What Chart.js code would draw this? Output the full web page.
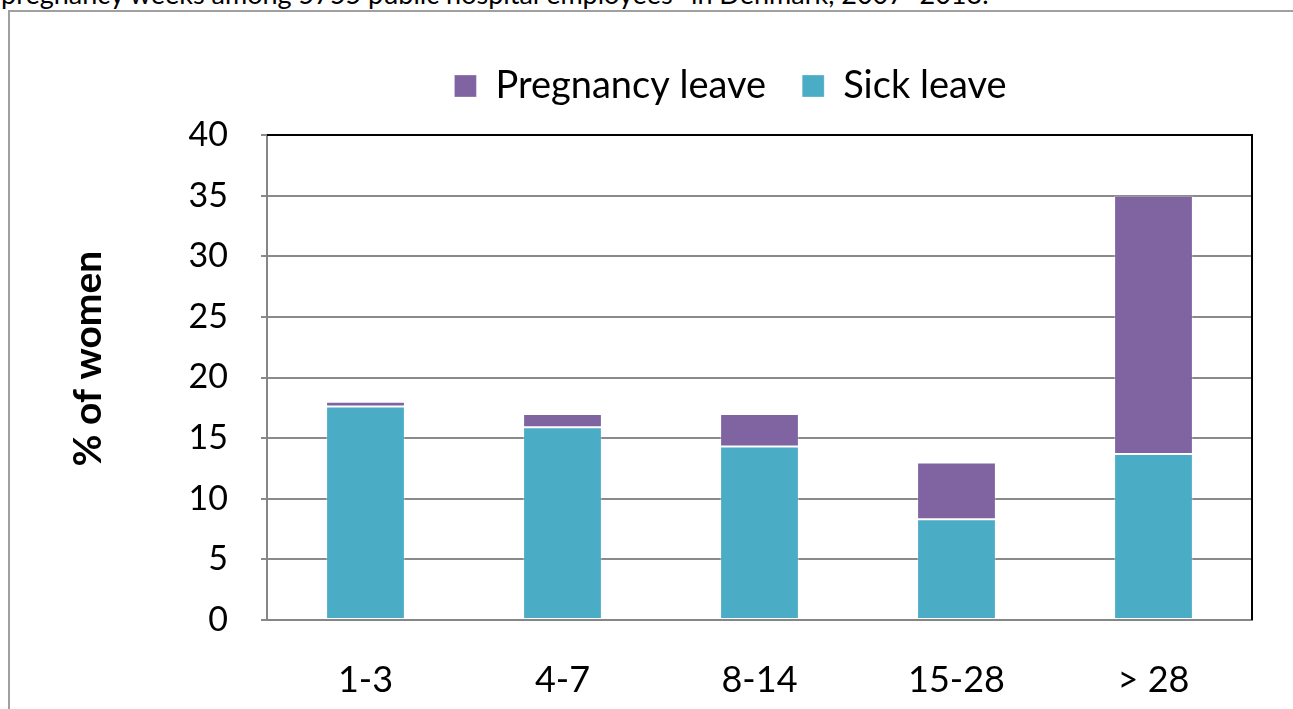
<!DOCTYPE html>
<html>
<head>
<meta charset="utf-8">
<script src="https://cdn.jsdelivr.net/npm/chart.js@4.4.1/dist/chart.umd.min.js"></script>
<style>
  html, body { margin: 0; padding: 0; background: #fff; overflow: hidden; }
  #page { position: relative; width: 1293px; height: 709px; overflow: hidden; }
  #caption { position: absolute; left: 1px; top: -23px; font: 27px Lato, sans-serif; color: #000; white-space: nowrap; }
  #frame { position: absolute; left: 8px; top: 10px; width: 1300px; height: 720px; border: 2px solid #a0a0a0; box-sizing: border-box; }
  #wrap { position: absolute; left: 0; top: 0; width: 1293px; height: 709px; }
</style>
</head>
<body>
<div id="page">
  <div id="caption">pregnancy weeks among 5755 public hospital employees* in Denmark, 2007–2013.</div>
  <div id="frame"></div>
  <div id="wrap"><canvas id="grafico"></canvas></div>
</div>
<script>
const categorias = ['1-3', '4-7', '8-14', '15-28', '> 28'];
const sickLeave = [17.6, 15.9, 14.3, 8.3, 13.7];
const pregnancyLeave = [0.4, 1.1, 2.7, 4.7, 21.3];
const yTicks = [0, 5, 10, 15, 20, 25, 30, 35, 40];

// legend sits right of centre and a bit higher in the original
const legendShift = {
    id: 'legendShift',
    afterLayout(chart) {
        chart.legend.left += 72;
        chart.legend.right += 72;
        chart.legend.top -= 20;
        chart.legend.bottom -= 20;
    }
};

// black top and right edge of the plot box
const plotBorder = {
    id: 'plotBorder',
    afterDraw(chart) {
        const a = chart.chartArea;
        const ctx = chart.ctx;
        ctx.save();
        ctx.strokeStyle = '#000';
        ctx.lineWidth = 2;
        ctx.beginPath();
        ctx.moveTo(a.left, a.top);
        ctx.lineTo(a.right, a.top);
        ctx.lineTo(a.right, a.bottom);
        ctx.stroke();
        ctx.restore();
    }
};

const ctx = document.getElementById('grafico').getContext('2d');
new Chart(ctx, {
    type: 'bar',
    data: {
        labels: categorias,
        datasets: [
            {
                label: 'Sick leave',
                data: sickLeave,
                backgroundColor: '#4BACC6',
                borderColor: 'rgba(255,255,255,0.3)',
                borderWidth: 1,
                borderSkipped: false
            },
            {
                label: 'Pregnancy leave',
                data: pregnancyLeave,
                backgroundColor: '#8064A2',
                borderColor: 'rgba(255,255,255,0.3)',
                borderWidth: 1,
                borderSkipped: false
            }
        ]
    },
    options: {
        responsive: true,
        maintainAspectRatio: false,
        animation: false,
        layout: { padding: { left: 65, right: 41, top: 51, bottom: 0 } },
        plugins: {
            legend: {
                reverse: true,
                labels: {
                    boxWidth: 22,
                    boxHeight: 22,
                    padding: 36,
                    color: '#000',
                    font: { family: 'Lato', size: 38 }
                }
            },
            tooltip: { enabled: false }
        },
        datasets: { bar: { barPercentage: 0.4, categoryPercentage: 1 } },
        scales: {
            x: {
                stacked: true,
                grid: { display: false, drawTicks: false },
                border: { color: '#868686', width: 2 },
                ticks: { color: '#000', padding: 39, font: { family: 'Lato', size: 36 } },
                afterFit(scale) { scale.height = 89; }
            },
            y: {
                stacked: true,
                min: 0,
                max: 40,
                afterBuildTicks(scale) { scale.ticks = yTicks.map(v => ({ value: v })); },
                grid: { color: '#8a8a8a', lineWidth: 2, tickLength: 6 },
                border: { color: '#868686', width: 2 },
                ticks: { color: '#000', padding: 33, font: { family: 'Lato', size: 34 } },
                title: {
                    display: true,
                    // leading spaces lift the rotated title like the original
                    text: '    % of women',
                    color: '#000',
                    padding: 0,
                    font: { family: 'Lato', size: 39, weight: 'bold' }
                },
                afterFit(scale) { scale.width = 267 - 65; }
            }
        }
    },
    plugins: [legendShift, plotBorder]
});
</script>
</body>
</html>
